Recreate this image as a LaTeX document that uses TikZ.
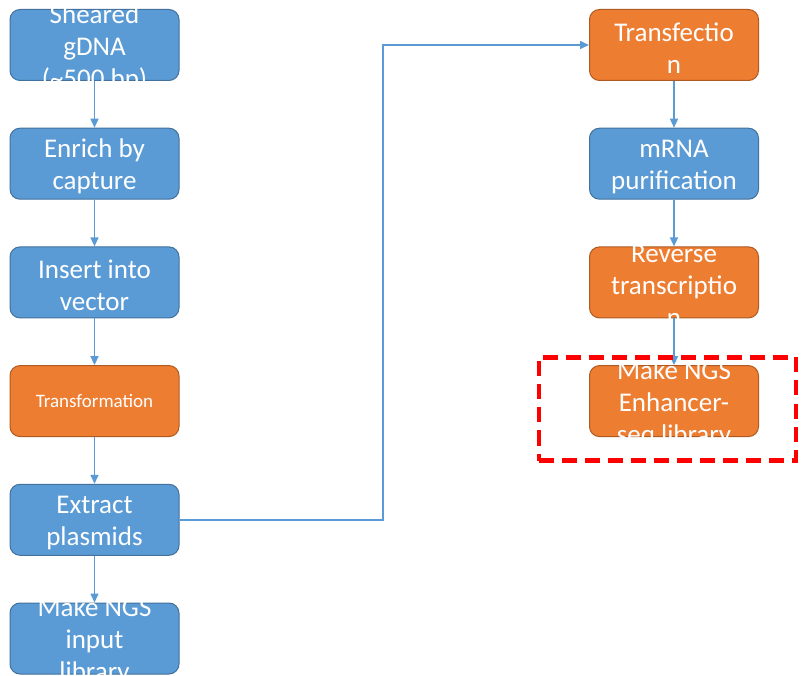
\documentclass[tikz,border=0pt]{standalone}
\usepackage{fontspec}
\setmainfont{Carlito}
\usepackage{tikz}
\usetikzlibrary{arrows.meta, positioning}
\definecolor{stepblue}{HTML}{5B9BD5}
\definecolor{blueedge}{HTML}{41719C}
\definecolor{steporange}{HTML}{ED7D31}
\definecolor{orangeedge}{HTML}{AE5A21}
\tikzstyle{block}=[rectangle, rounded corners=10pt, line width=1pt, minimum width=169pt, minimum height=71pt, inner sep=0pt]
\tikzstyle{blueblock}=[block, draw=blueedge, fill=stepblue]
\tikzstyle{orangeblock}=[block, draw=orangeedge, fill=steporange]
\tikzstyle{bigtext}=[text=white, align=center, inner sep=0pt, yshift=-3pt, font=\fontsize{27}{32}\selectfont]
\tikzstyle{smalltext}=[text=white, align=center, inner sep=0pt, font=\fontsize{19}{22}\selectfont]
\tikzstyle{flow}=[draw=stepblue, line width=1.5pt, -{Triangle[length=9pt, width=8pt]}]
\tikzstyle{focusbox}=[rectangle, draw=red, line width=4.5pt, dash pattern=on 15pt off 8pt, minimum width=257pt, minimum height=103pt]

\begin{document}
\begin{tikzpicture}[x=1pt, y=-1pt]
		\useasboundingbox (0,0) rectangle (801,676);
		% left column
		\foreach \nm/\txt/\sty/\fnt [count=\k from 0] in {gdna/{Sheared\\gDNA\\(\textasciitilde500 bp)}/blueblock/bigtext, capture/{Enrich by\\capture}/blueblock/bigtext, vector/{Insert into\\vector}/blueblock/bigtext, transform/{Transformation}/orangeblock/smalltext, plasmids/{Extract\\plasmids}/blueblock/bigtext, inputlib/{Make NGS\\input\\library}/blueblock/bigtext}{
			\node[\sty] (\nm) at (94.5, {45+\k*118.7}) {};
			\node[\fnt] (\nm-txt) at (\nm) {\txt};
		}
		% right column
		\foreach \nm/\txt/\sty [count=\k from 0] in {transfect/{Transfectio\\n}/orangeblock, mrna/{mRNA\\purification}/blueblock, revtrans/{Reverse\\transcriptio\\n}/orangeblock, enhlib/{Make NGS\\Enhancer-\\seq library}/orangeblock}{
			\node[\sty] (\nm) at (674, {45+\k*118.7}) {};
			\node[bigtext] (\nm-txt) at (\nm) {\txt};
		}
		\foreach \a/\b in {gdna/capture, capture/vector, vector/transform, transform/plasmids, plasmids/inputlib, transfect/mrna, mrna/revtrans, revtrans/enhlib}
			\draw[flow] (\a) -- (\b);
		\coordinate (bend) at (383, 45);
		\draw[flow] (plasmids.east) -| (bend) -- (transfect.west);
		\node[focusbox] (focus) at (667.5, 409) {};
	\end{tikzpicture}
\end{document}
